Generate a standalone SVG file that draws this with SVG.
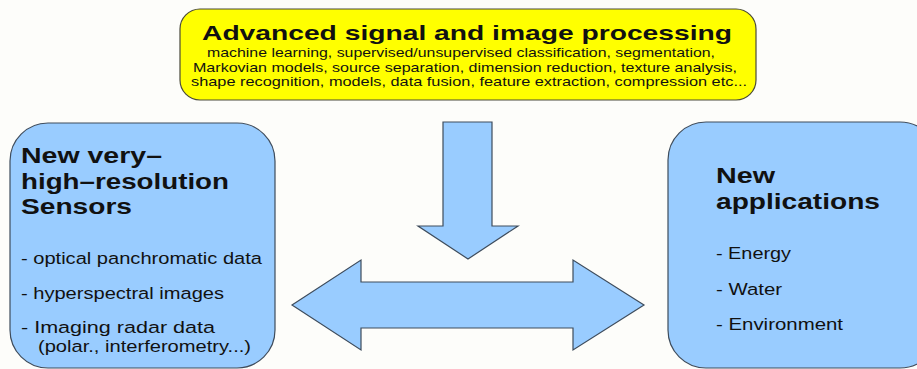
<svg xmlns="http://www.w3.org/2000/svg" width="917" height="369" viewBox="0 0 917 369">
  <style>
    .bg { fill: #fdfdfa; }
    .blue { fill: #99ccff; stroke: #3e4c5c; stroke-width: 1.2; }
    .yellow { fill: #ffff00; stroke: #4a4a3a; stroke-width: 1.2; }
    text { font-family: "Liberation Sans", Arial, sans-serif; fill: #111; }
    .head { font-weight: bold; font-size: 22.5px; }
    .title { font-weight: bold; font-size: 21px; }
    .sub { font-size: 13.5px; }
    .item { font-size: 16.8px; }
  </style>
  <rect class="bg" x="0" y="0" width="917" height="369"/>

  <!-- top processing box -->
  <g id="processing">
    <rect class="yellow" x="180" y="9" width="576" height="91" rx="20" ry="20"/>
    <text class="title" x="202" y="40" textLength="530" lengthAdjust="spacingAndGlyphs">Advanced signal and image processing</text>
    <text class="sub" x="207" y="57" textLength="508" lengthAdjust="spacingAndGlyphs">machine learning, supervised/unsupervised classification, segmentation,</text>
    <text class="sub" x="193" y="71.5" textLength="544" lengthAdjust="spacingAndGlyphs">Markovian models, source separation, dimension reduction, texture analysis,</text>
    <text class="sub" x="191" y="86" textLength="556" lengthAdjust="spacingAndGlyphs">shape recognition, models, data fusion, feature extraction, compression etc...</text>
  </g>

  <!-- left sensors box -->
  <g id="sensors">
    <rect class="blue" x="10" y="123" width="265" height="245" rx="38" ry="38"/>
    <text class="head" x="21" y="163" textLength="141" lengthAdjust="spacingAndGlyphs">New very–</text>
    <text class="head" x="21" y="189" textLength="208" lengthAdjust="spacingAndGlyphs">high–resolution</text>
    <text class="head" x="21" y="214" textLength="111" lengthAdjust="spacingAndGlyphs">Sensors</text>
    <text class="item" x="21" y="264" textLength="241" lengthAdjust="spacingAndGlyphs">- optical panchromatic data</text>
    <text class="item" x="21" y="299" textLength="203" lengthAdjust="spacingAndGlyphs">- hyperspectral images</text>
    <text class="item" x="21" y="333" textLength="194" lengthAdjust="spacingAndGlyphs">- Imaging radar data</text>
    <text class="item" x="38" y="352" textLength="213" lengthAdjust="spacingAndGlyphs">(polar., interferometry...)</text>
  </g>

  <!-- right applications box -->
  <g id="applications">
    <rect class="blue" x="668" y="122" width="270" height="246" rx="38" ry="38"/>
    <text class="head" x="716" y="183" textLength="59" lengthAdjust="spacingAndGlyphs">New</text>
    <text class="head" x="716" y="209" textLength="164" lengthAdjust="spacingAndGlyphs">applications</text>
    <text class="item" x="716" y="259" textLength="75" lengthAdjust="spacingAndGlyphs">- Energy</text>
    <text class="item" x="716" y="295" textLength="66" lengthAdjust="spacingAndGlyphs">- Water</text>
    <text class="item" x="716" y="330" textLength="127" lengthAdjust="spacingAndGlyphs">- Environment</text>
  </g>

  <!-- block arrows -->
  <g id="connectors">
    <polygon class="blue" points="443,122 492,122 492,226 518,226 468,259 418,226 443,226"/>
    <polygon class="blue" points="292,305 361,260 361,282 573,282 573,260 644,305 573,350 573,328 361,328 361,350"/>
  </g>
</svg>
